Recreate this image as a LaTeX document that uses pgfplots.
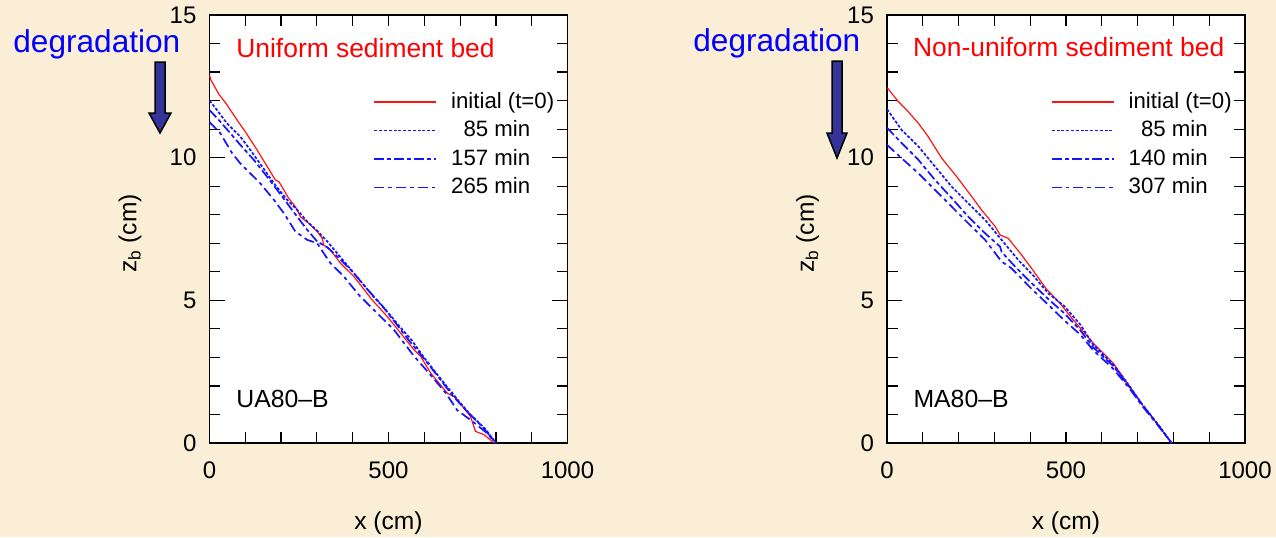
\documentclass[border=0pt]{standalone}
\usepackage{fontspec}
\setmainfont{Liberation Sans}
\usepackage{pgfplots}
\usepackage{pgfplotstable}
\pgfplotsset{compat=1.18}

\definecolor{parchment}{RGB}{250,239,214}
\definecolor{arrowblue}{RGB}{51,51,153}

% ---------- UA80-B (uniform sediment bed) ----------
\pgfplotstableread{
x z
0 12.9
4 12.72
26 12.23
49 11.85
77 11.32
100 10.91
133 10.27
184 9.22
194 9.16
221 8.58
240 8.28
254 7.93
277 7.70
301 7.41
315 7.17
319 6.94
338 6.76
366 6.30
403 5.84
454 5.02
496 4.44
534 3.85
571 3.27
590 3.03
618 2.45
664 1.75
688 1.58
729 0.93
743 0.41
767 0.29
795 0
}\uaInit
\pgfplotstableread{
x z
0 12.0
21 11.67
49 11.20
86 10.74
114 10.27
147 9.69
180 9.10
217 8.52
245 8.17
273 7.76
300 7.45
330 7.05
370 6.45
410 5.85
460 5.10
492 4.67
530 4.10
565 3.60
599 3.00
630 2.50
665 1.95
701 1.40
729 0.99
770 0.50
800 0
}\uaA
\pgfplotstableread{
x z
0 11.67
26 11.32
58 10.86
86 10.45
124 9.92
161 9.33
189 8.87
245 7.93
273 7.47
301 7.06
330 6.85
360 6.50
400 6.00
440 5.40
480 4.85
520 4.20
560 3.55
600 2.95
640 2.30
680 1.65
720 1.10
760 0.60
800 0
}\uaB
\pgfplotstableread{
x z
0 11.25
30 10.86
63 10.16
86 9.80
114 9.45
142 9.10
180 8.52
208 8.05
240 7.41
273 7.12
301 7.00
319 6.65
338 6.30
375 5.84
420 5.15
478 4.43
515 3.97
571 3.05
620 2.35
660 1.75
692 1.15
730 0.80
770 0.40
800 0
}\uaC

% ---------- MA80-B (non-uniform sediment bed) ----------
\pgfplotstableread{
x z
0 12.45
4 12.40
32 11.96
55 11.67
88 11.20
115 10.74
153 9.98
195 9.33
237 8.63
264 8.17
302 7.59
316 7.29
339 7.17
376 6.59
404 6.12
445 5.40
483 4.90
520 4.32
576 3.50
632 2.80
678 1.98
716 1.28
753 0.70
795 0
}\maInit
\pgfplotstableread{
x z
0 11.70
41 10.97
88 10.39
134 9.69
181 8.98
227 8.40
274 7.82
320 7.12
367 6.41
410 5.85
450 5.25
495 4.80
540 4.15
576 3.45
632 2.75
678 1.98
716 1.30
753 0.72
795 0
}\maA
\pgfplotstableread{
x z
0 11.05
41 10.51
88 9.92
134 9.22
181 8.58
227 7.93
274 7.35
316 6.88
320 6.70
358 6.18
400 5.65
450 5.05
495 4.55
540 3.95
576 3.35
632 2.70
678 1.95
716 1.30
753 0.70
795 0
}\maB
\pgfplotstableread{
x z
0 10.45
41 9.98
88 9.45
134 8.87
181 8.28
227 7.70
274 7.12
320 6.36
348 6.12
400 5.45
450 4.85
495 4.30
540 3.80
576 3.25
632 2.60
678 1.90
716 1.25
753 0.68
795 0
}\maC

\pgfplotsset{
  bedaxis/.style={
    scale only axis, width=179pt, height=214pt,
    xmin=0, xmax=1000, ymin=0, ymax=15,
    xtick={0,100,...,1000}, xticklabels={0,,,,,500,,,,,1000},
    ytick={0,5,10,15}, minor ytick={1,...,14},
    tick align=inside,
    major tick length=7.5pt, minor tick length=5.3pt,
    xtick style={/pgfplots/major tick length=5.5pt},
    axis line style={line width=0.9pt, black},
    tick style={black, line width=0.6pt},
    axis background/.style={fill=white},
    tick label style={font=\fontsize{12}{14}\selectfont},
    /pgf/number format/assume math mode=true,
    xticklabel style={yshift=-6pt},
    yticklabel style={xshift=-3pt},
    xlabel={x (cm)}, ylabel={z\textsubscript{b} (cm)},
    label style={font=\fontsize{12.3}{14}\selectfont},
    xlabel style={at={(axis description cs:0.5,0)}, anchor=center, yshift=-40pt},
    ylabel style={at={(axis description cs:-0.222,0.4895)}, anchor=center},
    legend style={draw=none, fill=none, inner sep=0pt,
      font=\fontsize{11.1}{13}\selectfont,
      at={(axis cs:457,10.45)}, anchor=west, row sep=2.25pt,
      nodes={inner sep=0pt, text height=9pt, text depth=3pt},
      /tikz/every odd column/.append style={column sep=7pt}},
    legend cell align=left,
    legend image code/.code={\draw[#1] (0pt,0pt) -- (31pt,0pt);},
  },
  initline/.style={color={rgb,255:red,255;green,20;blue,20}, line width=0.6pt},
  dotline/.style={color={rgb,255:red,20;green,20;blue,255}, line width=0.85pt, dash pattern=on 1.5pt off 0.9pt},
  dashdotline/.style={color={rgb,255:red,20;green,20;blue,255}, line width=0.85pt, dash pattern=on 5pt off 1.5pt on 2pt off 1.5pt},
  dashddline/.style={color={rgb,255:red,20;green,20;blue,255}, line width=0.85pt, dash pattern=on 5pt off 2pt on 1.8pt off 2pt},
}

\begin{document}
\begin{tikzpicture}
\path[use as bounding box, fill=parchment] (0pt,0pt) rectangle (638pt,-268.5pt);

% left panel
\begin{axis}[bedaxis, at={(104.75pt,-7.5pt)}, anchor=north west]
  \addplot[initline] table {\uaInit};
  \addplot[dotline] table {\uaA};
  \addplot[dashdotline] table {\uaB};
  \addplot[dashddline] table {\uaC};
  \addlegendentry{initial (t=0)}
  \addlegendentry{\phantom{0}85 min}
  \addlegendentry{157 min}
  \addlegendentry{265 min}
  \node[anchor=base west, inner sep=0pt, red, font=\fontsize{13.2}{15}\selectfont] at (axis cs:74,13.5) {Uniform sediment bed};
  \node[anchor=base west, inner sep=0pt, font=\fontsize{12.4}{14}\selectfont] at (axis cs:74,1.26) {UA80--B};
\end{axis}

% right panel
\begin{axis}[bedaxis, at={(443.5pt,-7.5pt)}, anchor=north west]
  \addplot[initline] table {\maInit};
  \addplot[dotline] table {\maA};
  \addplot[dashdotline] table {\maB};
  \addplot[dashddline] table {\maC};
  \addlegendentry{initial (t=0)}
  \addlegendentry{\phantom{0}85 min}
  \addlegendentry{140 min}
  \addlegendentry{307 min}
  \node[anchor=base west, inner sep=0pt, red, font=\fontsize{13.2}{15}\selectfont] at (axis cs:72,13.54) {Non-uniform sediment bed};
  \node[anchor=base west, inner sep=0pt, font=\fontsize{12.4}{14}\selectfont] at (axis cs:73,1.26) {MA80--B};
\end{axis}

% degradation annotations
\node[anchor=base west, inner sep=0pt, blue, font=\fontsize{15.8}{18}\selectfont] at (6.5pt,-26pt) {degradation};
\filldraw[fill=arrowblue, draw=black, line width=0.75pt, line join=miter]
  (77.5pt,-31pt) -- (82.5pt,-31pt) -- (82.5pt,-56.5pt) -- (85.5pt,-56.5pt)
  -- (80pt,-66.5pt) -- (74.5pt,-56.5pt) -- (77.5pt,-56.5pt) -- cycle;

\node[anchor=base west, inner sep=0pt, blue, font=\fontsize{15.8}{18}\selectfont] at (346.5pt,-25.5pt) {degradation};
\filldraw[fill=arrowblue, draw=black, line width=0.75pt, line join=miter]
  (416pt,-30.5pt) -- (421pt,-30.5pt) -- (421pt,-66.5pt) -- (423.5pt,-66.5pt)
  -- (418.5pt,-79pt) -- (413.5pt,-66.5pt) -- (416pt,-66.5pt) -- cycle;
\end{tikzpicture}
\end{document}
